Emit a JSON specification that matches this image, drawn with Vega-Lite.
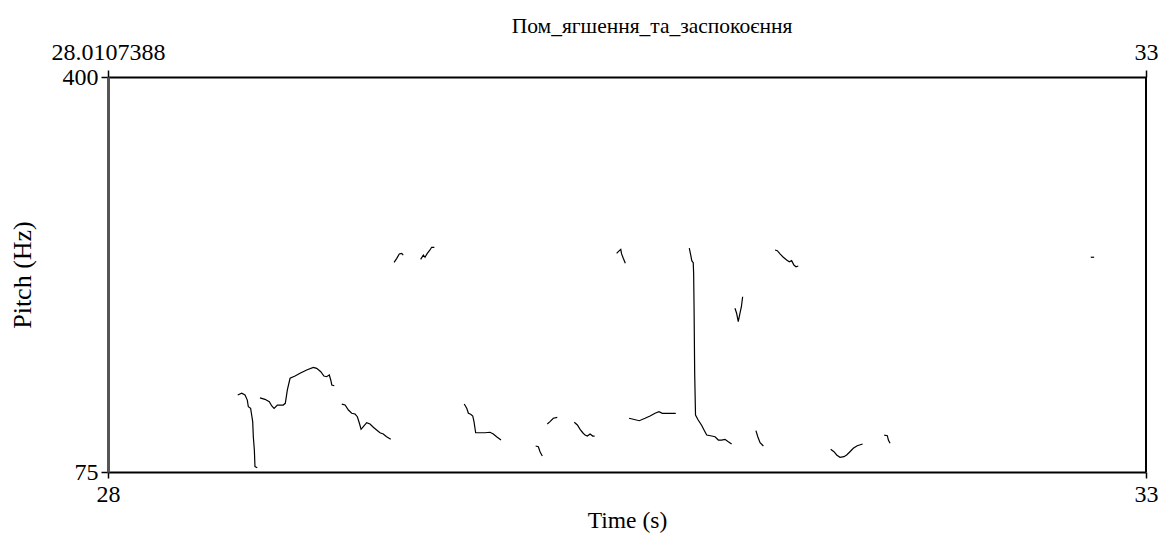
{
  "$schema": "https://vega.github.io/schema/vega-lite/v6.json",
  "width": 1038,
  "height": 395,
  "autosize": {"type": "none"},
  "padding": {"left": 108, "top": 77, "right": 22, "bottom": 64},
  "background": "white",
  "title": {"text": "Пом_ягшення_та_заспокоєння", "font": "Liberation Serif, DejaVu Serif, serif", "fontSize": 21.5, "fontWeight": "normal", "color": "black", "offset": 3, "anchor": "middle", "dx": 25},
  "config": {"view": {"stroke": null}, "font": "Liberation Serif"},
  "data": {"values": [
    {"s":"A","t":28.625,"f":138.4},{"s":"A","t":28.644,"f":139.8},{"s":"A","t":28.660,"f":138.4},{"s":"A","t":28.671,"f":134.2},{"s":"A","t":28.676,"f":128.7},{"s":"A","t":28.687,"f":127.4},{"s":"A","t":28.692,"f":121.9},{"s":"A","t":28.697,"f":116.4},{"s":"A","t":28.700,"f":104.0},{"s":"A","t":28.705,"f":93.1},{"s":"A","t":28.708,"f":79.4},{"s":"A","t":28.719,"f":78.5},
    {"s":"B","t":28.732,"f":136.0},{"s":"B","t":28.756,"f":134.8},{"s":"B","t":28.777,"f":132.8},{"s":"B","t":28.789,"f":129.3},{"s":"B","t":28.800,"f":127.4},{"s":"B","t":28.816,"f":130.1},{"s":"B","t":28.829,"f":130.1},{"s":"B","t":28.844,"f":130.1},{"s":"B","t":28.854,"f":131.5},{"s":"B","t":28.864,"f":142.5},{"s":"B","t":28.877,"f":152.1},{"s":"B","t":28.901,"f":154.0},{"s":"B","t":28.925,"f":156.2},{"s":"B","t":28.957,"f":158.9},{"s":"B","t":28.989,"f":161.1},{"s":"B","t":29.005,"f":160.3},{"s":"B","t":29.025,"f":157.5},{"s":"B","t":29.040,"f":154.0},{"s":"B","t":29.053,"f":153.4},{"s":"B","t":29.066,"f":154.8},{"s":"B","t":29.073,"f":150.7},{"s":"B","t":29.078,"f":146.6},{"s":"B","t":29.090,"f":146.0},
    {"s":"C","t":29.126,"f":130.9},{"s":"C","t":29.142,"f":130.1},{"s":"C","t":29.158,"f":126.0},{"s":"C","t":29.174,"f":123.3},{"s":"C","t":29.190,"f":122.7},{"s":"C","t":29.201,"f":120.5},{"s":"C","t":29.211,"f":115.1},{"s":"C","t":29.219,"f":110.1},{"s":"C","t":29.230,"f":112.3},{"s":"C","t":29.246,"f":115.6},{"s":"C","t":29.262,"f":114.5},{"s":"C","t":29.278,"f":111.8},{"s":"C","t":29.294,"f":109.6},{"s":"C","t":29.310,"f":107.3},{"s":"C","t":29.326,"f":106.3},{"s":"C","t":29.342,"f":104.0},{"s":"C","t":29.362,"f":101.9},
    {"s":"M","t":29.378,"f":247.5},{"s":"M","t":29.391,"f":250.8},{"s":"M","t":29.403,"f":254.4},{"s":"M","t":29.415,"f":254.9},{"s":"M","t":29.422,"f":253.5},
    {"s":"N","t":29.506,"f":250.0},{"s":"N","t":29.519,"f":253.5},{"s":"N","t":29.527,"f":251.7},{"s":"N","t":29.538,"f":254.9},{"s":"N","t":29.551,"f":257.7},{"s":"N","t":29.559,"f":259.9},{"s":"N","t":29.572,"f":259.9},
    {"s":"D","t":29.716,"f":130.9},{"s":"D","t":29.728,"f":127.4},{"s":"D","t":29.736,"f":123.3},{"s":"D","t":29.747,"f":122.5},{"s":"D","t":29.757,"f":121.1},{"s":"D","t":29.763,"f":116.4},{"s":"D","t":29.771,"f":107.3},{"s":"D","t":29.792,"f":107.3},{"s":"D","t":29.816,"f":107.3},{"s":"D","t":29.840,"f":107.7},{"s":"D","t":29.856,"f":106.3},{"s":"D","t":29.872,"f":104.0},{"s":"D","t":29.893,"f":101.3},
    {"s":"E","t":30.060,"f":96.4},{"s":"E","t":30.073,"f":95.8},{"s":"E","t":30.081,"f":91.7},{"s":"E","t":30.092,"f":88.2},
    {"s":"F","t":30.116,"f":114.5},{"s":"F","t":30.129,"f":116.4},{"s":"F","t":30.145,"f":119.2},{"s":"F","t":30.164,"f":120.0},
    {"s":"G","t":30.246,"f":115.9},{"s":"G","t":30.261,"f":113.7},{"s":"G","t":30.274,"f":110.1},{"s":"G","t":30.287,"f":107.3},{"s":"G","t":30.298,"f":105.4},{"s":"G","t":30.309,"f":104.6},{"s":"G","t":30.322,"f":106.3},{"s":"G","t":30.335,"f":104.6},{"s":"G","t":30.344,"f":104.6},
    {"s":"O","t":30.450,"f":254.9},{"s":"O","t":30.463,"f":257.1},{"s":"O","t":30.470,"f":258.2},{"s":"O","t":30.474,"f":254.4},{"s":"O","t":30.482,"f":250.8},{"s":"O","t":30.492,"f":246.7},
    {"s":"H","t":30.510,"f":119.2},{"s":"H","t":30.530,"f":118.4},{"s":"H","t":30.559,"f":117.2},{"s":"H","t":30.587,"f":119.2},{"s":"H","t":30.611,"f":121.1},{"s":"H","t":30.635,"f":123.3},{"s":"H","t":30.654,"f":124.6},{"s":"H","t":30.670,"f":123.3},{"s":"H","t":30.691,"f":123.3},{"s":"H","t":30.715,"f":123.3},{"s":"H","t":30.735,"f":123.3},
    {"s":"I","t":30.800,"f":259.1},{"s":"I","t":30.807,"f":253.5},{"s":"I","t":30.812,"f":248.9},{"s":"I","t":30.819,"f":247.2},{"s":"I","t":30.821,"f":238.5},{"s":"I","t":30.823,"f":211.0},{"s":"I","t":30.826,"f":156.2},{"s":"I","t":30.830,"f":121.9},{"s":"I","t":30.843,"f":117.8},{"s":"I","t":30.860,"f":113.3},{"s":"I","t":30.871,"f":109.6},{"s":"I","t":30.884,"f":105.4},{"s":"I","t":30.908,"f":104.6},{"s":"I","t":30.924,"f":104.0},{"s":"I","t":30.940,"f":101.3},{"s":"I","t":30.956,"f":101.3},{"s":"I","t":30.972,"f":101.9},{"s":"I","t":30.988,"f":99.9},{"s":"I","t":31.004,"f":98.0},
    {"s":"Q","t":31.020,"f":209.7},{"s":"Q","t":31.028,"f":205.6},{"s":"Q","t":31.036,"f":198.7},{"s":"Q","t":31.044,"f":205.6},{"s":"Q","t":31.051,"f":211.0},{"s":"Q","t":31.057,"f":219.2},
    {"s":"J","t":31.121,"f":109.0},{"s":"J","t":31.130,"f":104.0},{"s":"J","t":31.141,"f":99.1},{"s":"J","t":31.157,"f":96.4},
    {"s":"P","t":31.213,"f":257.7},{"s":"P","t":31.224,"f":257.1},{"s":"P","t":31.237,"f":254.4},{"s":"P","t":31.253,"f":251.7},{"s":"P","t":31.269,"f":249.4},{"s":"P","t":31.282,"f":248.0},{"s":"P","t":31.293,"f":248.9},{"s":"P","t":31.304,"f":245.3},{"s":"P","t":31.314,"f":243.9},{"s":"P","t":31.325,"f":244.5},
    {"s":"K","t":31.481,"f":93.7},{"s":"K","t":31.497,"f":91.7},{"s":"K","t":31.510,"f":89.0},{"s":"K","t":31.526,"f":87.1},{"s":"K","t":31.545,"f":87.6},{"s":"K","t":31.558,"f":89.0},{"s":"K","t":31.574,"f":91.7},{"s":"K","t":31.590,"f":94.5},{"s":"K","t":31.609,"f":96.6},{"s":"K","t":31.635,"f":98.0},
    {"s":"L","t":31.739,"f":105.4},{"s":"L","t":31.754,"f":104.9},{"s":"L","t":31.759,"f":101.3},{"s":"L","t":31.767,"f":98.6},
    {"s":"R","t":32.734,"f":251.7},{"s":"R","t":32.750,"f":251.7}
  ]},
  "layer": [
    {
      "mark": {"type": "line", "color": "black", "strokeWidth": 1.2, "clip": true},
      "encoding": {
        "x": {"field": "t", "type": "quantitative", "scale": {"domain": [28, 33], "nice": false, "zero": false},
          "axis": {"orient": "bottom", "values": [28, 33], "title": "Time (s)", "titleFont": "Liberation Serif", "titleFontSize": 23.5, "titleFontWeight": "normal", "titleColor": "black", "titlePadding": 2,
            "labelFont": "Liberation Serif", "labelFontSize": 24, "labelColor": "black", "labelPadding": 4, "labelFlush": false, "labelOverlap": false,
            "domainColor": "black", "domainWidth": 2, "tickColor": "black", "tickSize": 6, "tickWidth": 1.5, "grid": false}},
        "y": {"field": "f", "type": "quantitative", "scale": {"domain": [75, 400], "nice": false, "zero": false},
          "axis": {"orient": "left", "values": [75, 400], "title": "Pitch (Hz)", "titleFont": "Liberation Serif", "titleFontSize": 26, "titleFontWeight": "normal", "titleColor": "black", "titlePadding": 27,
            "labelFont": "Liberation Serif", "labelFontSize": 24, "labelColor": "black", "labelPadding": 3, "labelFlush": false, "labelOverlap": false, "labelBaseline": "middle",
            "domainColor": "#555", "domainWidth": 3, "tickColor": "black", "tickSize": 7, "tickWidth": 1.5, "grid": false}},
        "detail": {"field": "s", "type": "nominal"}
      }
    },
    {
      "mark": {"type": "rule", "color": "black", "strokeWidth": 2},
      "encoding": {
        "x": {"datum": 33, "type": "quantitative",
          "axis": {"orient": "top", "values": [28, 33], "title": null, "labelExpr": "datum.value == 28 ? '28.0107388' : '33'",
            "labelFont": "Liberation Serif", "labelFontSize": 24, "labelColor": "black", "labelPadding": 6, "labelFlush": false, "labelOverlap": false,
            "domainColor": "black", "domainWidth": 2, "tickColor": "black", "tickSize": 7, "tickWidth": 1.5, "grid": false}}
      }
    }
  ],
  "resolve": {"axis": {"x": "independent"}}
}
